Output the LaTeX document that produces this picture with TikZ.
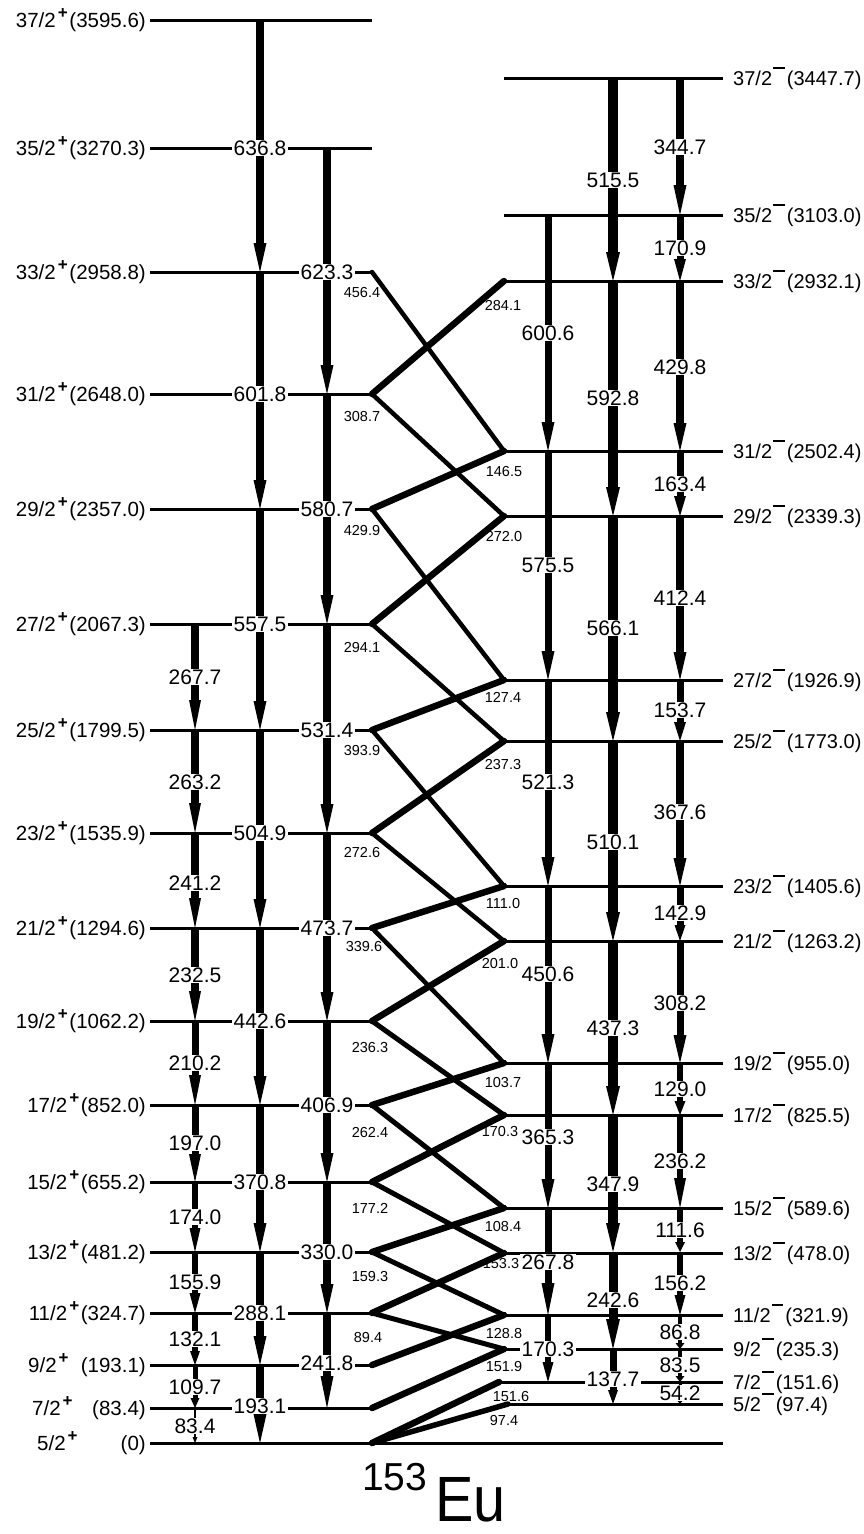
\documentclass[tikz,border=0pt]{standalone}
\usepackage{fontspec}
\setmainfont{Liberation Sans}
\usetikzlibrary{calc}
\newcommand\pp{\hspace{0.1em}\raisebox{0.45em}{\fontsize{17}{17}\selectfont\bfseries +}\hspace{0.08em}}
\newcommand\mm{\hspace{0.06em}\rule[0.8em]{0.58em}{0.1em}\hspace{0.1em}}
\newcount\gc
% vertical gamma: x, yfrom, yto, width, head length, head width, label, label y
\newcommand\gam[8]{%
  \global\advance\gc by 1
  \draw[line width=#4pt] (#1,#2) -- (#1,{#3-#5+0.5});
  \fill ({#1-#6/2},{#3-#5}) -- ({#1+#6/2},{#3-#5}) -- (#1,#3) -- cycle;
  \node[glab] (g\the\gc) at (#1,#8) {#7};}
\begin{document}
\begin{tikzpicture}[x=1pt,y=-1pt,
  level/.style={line width=3pt},
  thinx/.style={line width=4.5pt,line cap=round},
  thickx/.style={line width=6.5pt,line cap=round},
  lvlab/.style={font=\fontsize{20.5}{24}\selectfont, inner sep=0pt},
  rvlab/.style={font=\fontsize{20}{24}\selectfont, inner sep=0pt},
  glab/.style={font=\fontsize{21}{24}\selectfont, fill=white, inner xsep=1.5pt, inner ysep=1pt},
  slab/.style={font=\fontsize{14.5}{17}\selectfont, inner sep=0pt},
]
\useasboundingbox (0,0) rectangle (864,1534);
\fill[white] (0,0) rectangle (864,1534);

% ---- levels, positive parity (left)
\foreach \n/\y in {37/20,35/148,33/272,31/394,29/509,27/624,25/730,23/833,21/928,19/1021,17/1105,15/1182,13/1252,11/1313,9/1365,7/1408}{
  \coordinate (p\n) at (372,\y);
  \draw[level] (150,\y) -- (p\n);
}
\coordinate (p5) at (372,1443);
\coordinate (g0) at (150,1443);
\coordinate (g1) at (723,1443);
\draw[level] (g0) -- (g1);

% ---- levels, negative parity (right)
\foreach \n/\y/\x in {37/78/504,35/215/504,33/281/504,31/451/504,29/516/504,27/680/504,25/741/504,23/886/504,21/941/504,19/1063/504,17/1115/504,15/1208/504,13/1253/504,11/1315/504,9/1349/504,7/1382/499,5/1404/508}{
  \coordinate (n\n) at (\x,\y);
  \draw[level] (n\n) -- (723,\y);
}

% ---- crossing transitions
\foreach \a/\b in {33/31,31/29,29/27,27/25,25/23,23/21,21/19}{\draw[thinx] (p\a) -- (n\b);}
\foreach \a/\b in {19/17,17/15,15/13,13/11,11/9}{\draw[line width=5pt,line cap=round] (p\a) -- (n\b);}
\foreach \a/\b in {33/31,31/29,29/27,27/25,25/23,23/21,21/19,19/17,17/15,15/13,13/11,11/9,9/7,7/5}{\draw[thickx] (n\a) -- (p\b);}
\draw[line width=5.5pt,line cap=round] (n5) -- (p5);

% ---- column A
\gam{195}{624}{730}{7.5}{30}{12}{267.7}{677}
\gam{195}{730}{833}{7.5}{30}{12}{263.2}{782}
\gam{195}{833}{928}{7.5}{30}{12}{241.2}{883}
\gam{195}{928}{1021}{7.5}{30}{12}{232.5}{975}
\gam{195}{1021}{1105}{7}{30}{12}{210.2}{1063}
\gam{195}{1105}{1182}{7}{28}{12}{197.0}{1143}
\gam{195}{1182}{1252}{6.5}{24}{11}{174.0}{1217}
\gam{195}{1252}{1313}{6.5}{20}{11}{155.9}{1282}
\gam{195}{1313}{1365}{6}{14}{10}{132.1}{1339}
\gam{195}{1365}{1408}{5}{10}{9}{109.7}{1387}
\gam{195}{1408}{1443}{1.5}{6}{5}{83.4}{1426}
% ---- column B
\gam{260}{20}{272}{7.5}{29}{13}{636.8}{148}
\gam{260}{272}{509}{7.5}{29}{13}{601.8}{394}
\gam{260}{509}{730}{7.5}{29}{13}{557.5}{624}
\gam{260}{730}{928}{7.5}{29}{13}{504.9}{833}
\gam{260}{928}{1105}{7.5}{29}{13}{442.6}{1021}
\gam{260}{1105}{1252}{7.5}{29}{13}{370.8}{1182}
\gam{260}{1252}{1365}{7.5}{29}{13}{288.1}{1313}
\gam{260}{1365}{1443}{7.5}{29}{13}{193.1}{1406}
% ---- column C
\gam{327}{148}{394}{7.5}{29}{13}{623.3}{272}
\gam{327}{394}{624}{7.5}{29}{13}{580.7}{509}
\gam{327}{624}{833}{7.5}{29}{13}{531.4}{730}
\gam{327}{833}{1021}{7.5}{29}{13}{473.7}{928}
\gam{327}{1021}{1182}{7.5}{29}{13}{406.9}{1105}
\gam{327}{1182}{1313}{7.5}{29}{13}{330.0}{1252}
\gam{327}{1313}{1408}{7.5}{32}{13}{241.8}{1363}
% ---- column D
\gam{548}{215}{451}{7}{29}{13}{600.6}{333}
\gam{548}{451}{680}{7}{29}{13}{575.5}{565}
\gam{548}{680}{886}{7}{29}{13}{521.3}{782}
\gam{548}{886}{1063}{7}{29}{13}{450.6}{974}
\gam{548}{1063}{1208}{7}{29}{13}{365.3}{1137}
\gam{548}{1208}{1315}{7}{32}{13}{267.8}{1262}
\gam{548}{1315}{1382}{6.5}{20}{11}{170.3}{1349}
% ---- column E
\gam{613}{78}{281}{9.5}{29}{14}{515.5}{180}
\gam{613}{281}{516}{9.5}{29}{14}{592.8}{398}
\gam{613}{516}{741}{9.5}{29}{14}{566.1}{628}
\gam{613}{741}{941}{9.5}{29}{14}{510.1}{842}
\gam{613}{941}{1115}{9.5}{29}{14}{437.3}{1028}
\gam{613}{1115}{1252}{9.5}{29}{14}{347.9}{1184}
\gam{613}{1252}{1349}{9}{30}{14}{242.6}{1300}
\gam{613}{1349}{1404}{7}{14}{10}{137.7}{1379}
% ---- column F
\gam{680}{78}{215}{7.5}{30}{13}{344.7}{147}
\gam{680}{215}{281}{7}{22}{12}{170.9}{248}
\gam{680}{281}{451}{7.5}{28}{13}{429.8}{367}
\gam{680}{451}{516}{7}{20}{12}{163.4}{484}
\gam{680}{516}{680}{7.5}{28}{13}{412.4}{598}
\gam{680}{680}{741}{7}{19}{12}{153.7}{710}
\gam{680}{741}{886}{7.5}{28}{13}{367.6}{812}
\gam{680}{886}{941}{7}{16}{11}{142.9}{913}
\gam{680}{941}{1063}{7}{28}{13}{308.2}{1003}
\gam{680}{1063}{1115}{6.5}{14}{11}{129.0}{1089}
\gam{680}{1115}{1208}{6.5}{30}{12}{236.2}{1161}
\gam{680}{1208}{1252}{6}{10}{10}{111.6}{1230}
\gam{680}{1252}{1315}{6}{20}{11}{156.2}{1283}
\gam{680}{1315}{1349}{4}{6}{9}{86.8}{1332}
\gam{680}{1349}{1382}{4}{6}{9}{83.5}{1365}
\gam{680}{1382}{1404}{3}{5}{8}{54.2}{1393}

% ---- crossing labels (on top)
\foreach \t/\x/\y [count=\i] in {456.4/362/293,308.7/362/417,429.9/362/531,294.1/362/647,393.9/362/750,272.6/362/852,339.6/364/946,236.3/370/1047,262.4/370/1132,177.2/370/1208,159.3/370/1276,89.4/368/1337,
  284.1/503/306,146.5/504/472,272.0/504/537,127.4/503/697,237.3/503/764,111.0/503/903,201.0/500/963,103.7/503/1082,170.3/500/1131,108.4/503/1226,153.3/501/1263,128.8/504/1333,151.9/504/1366,151.6/511/1396,97.4/504/1420}{
  \node[slab] (s\i) at (\x,\y) {\t};
}

% ---- level labels, left
\foreach \s/\e/\y in {37/3595.6/20,35/3270.3/148,33/2958.8/272,31/2648.0/394,29/2357.0/509,27/2067.3/624,25/1799.5/730,23/1535.9/833,21/1294.6/928,19/1062.2/1021,17/852.0/1105,15/655.2/1182,13/481.2/1252,11/324.7/1313}{
  \node[lvlab,anchor=base east] (lp\s) at (146,{\y+7.3}) {\s/2\pp(\e)};
}
\node[lvlab,anchor=base west] (lp9) at (28,1372.3) {9/2\pp};
\node[lvlab,anchor=base east] (le9) at (146,1372.3) {(193.1)};
\node[lvlab,anchor=base west] (lp7) at (32,1415.3) {7/2\pp};
\node[lvlab,anchor=base east] (le7) at (146,1415.3) {(83.4)};
\node[lvlab,anchor=base west] (lp5) at (37,1450.3) {5/2\pp};
\node[lvlab,anchor=base east] (le5) at (146,1450.3) {(0)};

% ---- level labels, right
\foreach \s/\e/\y in {37/3447.7/78,35/3103.0/215,33/2932.1/281,31/2502.4/451,29/2339.3/516,27/1926.9/680,25/1773.0/741,23/1405.6/886,21/1263.2/941,19/955.0/1063,17/825.5/1115,15/589.6/1208,13/478.0/1253,11/321.9/1315,9/235.3/1349,7/151.6/1382,5/97.4/1404}{
  \node[rvlab,anchor=base west] (ln\s) at (733,{\y+7.2}) {\s/2\mm(\e)};
}

% ---- nucleus
\node[anchor=base west,inner sep=0pt,font=\fontsize{39}{40}\selectfont] (mass) at (362,1490) {153};
\node[anchor=base west,inner sep=0pt,xscale=0.9,font=\fontsize{64}{66}\selectfont] (elem) at (435,1521) {Eu};
\end{tikzpicture}
\end{document}
